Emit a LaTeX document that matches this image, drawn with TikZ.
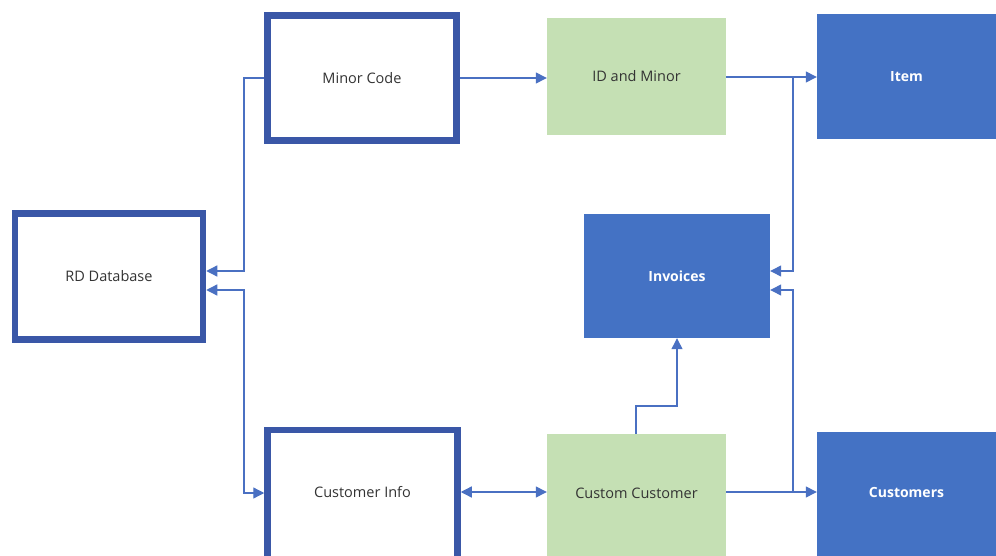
\documentclass[tikz,border=0pt]{standalone}
\usepackage{fontspec}
\setmainfont{Open Sans}
\usetikzlibrary{arrows.meta}
\definecolor{edgeblue}{HTML}{3A57A7}
\definecolor{fillblue}{HTML}{4472C4}
\definecolor{fillgreen}{HTML}{C5E0B4}
\definecolor{wire}{HTML}{4A70C2}
\tikzset{
  outlinebox/.style={draw=edgeblue, line width=6.5pt, fill=white, inner sep=0pt,
    font=\fontsize{14.5}{16}\selectfont, text=black!80},
  greenbox/.style={fill=fillgreen, inner sep=0pt, font=\fontsize{14.5}{16}\selectfont, text=black!80},
  bluebox/.style={fill=fillblue, inner sep=0pt, font=\fontsize{14}{16}\selectfont\bfseries, text=white},
  wireline/.style={draw=wire, line width=1.3pt, -{Triangle[length=11pt,width=11pt]}},
  wireboth/.style={wireline, {Triangle[length=11pt,width=11pt]}-{Triangle[length=11pt,width=11pt]}}
}
\begin{document}
\begin{tikzpicture}[x=1pt,y=-1pt]
\useasboundingbox (0,0) rectangle (996,556);
% outlined boxes (the bottom ones run past the lower edge)
\node[outlinebox, minimum width=188pt, minimum height=126pt] (rd) at (109,276.5) {RD Database};
\node[outlinebox, minimum width=189pt, minimum height=125pt] (minor) at (362,78) {Minor Code};
\node[outlinebox, minimum width=190pt, minimum height=130pt, text depth=6pt] (cinfo) at (362.5,495) {Customer Info};
% green boxes
\node[greenbox, minimum width=179pt, minimum height=117pt] (idm) at (636.5,76.5) {ID and Minor};
\node[greenbox, minimum width=179pt, minimum height=124pt, text depth=6pt] (cc) at (636.5,496) {Custom Customer};
% blue boxes
\node[bluebox, minimum width=179pt, minimum height=125pt] (item) at (906.5,76.5) {Item};
\node[bluebox, minimum width=186pt, minimum height=124pt] (inv) at (677,276) {Invoices};
\node[bluebox, minimum width=179pt, minimum height=124pt, text depth=4pt] (cust) at (906.5,494) {Customers};
% joints where the side wires branch
\coordinate (jl) at (244,0);
\coordinate (jr) at (793,0);
% connectors
\draw[wireline] (minor.west |- 0,78) -| (jl |- 0,271) -- (rd.east |- 0,271);
\draw[wireboth] (rd.east |- 0,290) -| (jl |- 0,493) -- (cinfo.west |- 0,493);
\draw[wireline] (minor.east |- 0,78) -- (idm.west |- 0,78);
\draw[wireline] (idm.east |- 0,77) -- (item.west |- 0,77);
\draw[wireline] (jr |- 0,77) -- (jr |- 0,271) -- (inv.east |- 0,271);
\draw[wireline] (cc.east |- 0,492) -- (cust.west |- 0,492);
\draw[wireline] (jr |- 0,492) -- (jr |- 0,290) -- (inv.east |- 0,290);
\draw[wireboth] (cinfo.east |- 0,492) -- (cc.west |- 0,492);
\draw[wireline] (636,0 |- cc.north) -- (636,406) -- (677,406) -- (inv.south);
\end{tikzpicture}
\end{document}
